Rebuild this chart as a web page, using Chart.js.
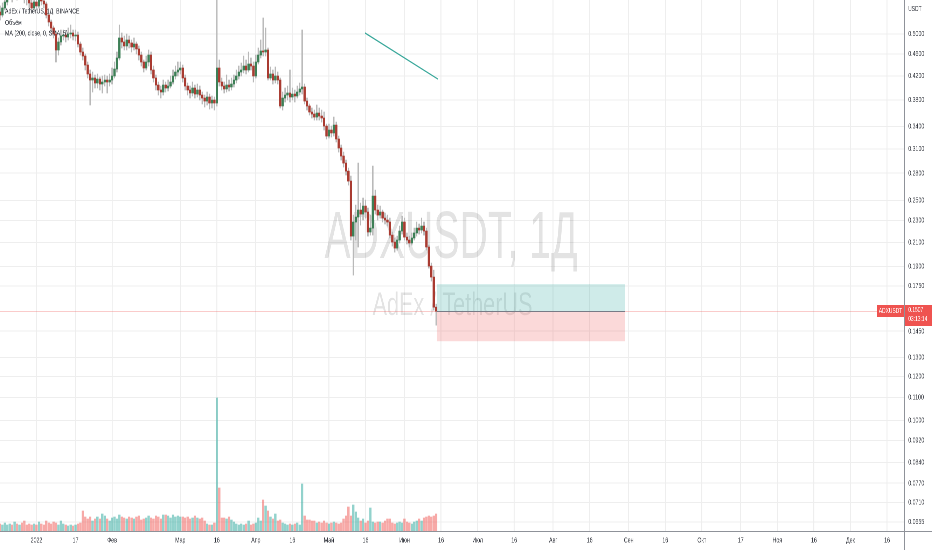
<!DOCTYPE html>
<html>
<head>
<meta charset="utf-8">
<script src="https://cdn.jsdelivr.net/npm/chart.js@4.4.1/dist/chart.umd.min.js"></script>
<style>
  html, body { margin: 0; padding: 0; background: #fff; overflow: hidden; }
  #frame { width: 932px; height: 550px; overflow: hidden; position: relative; }
  #wrap { width: 1331px; height: 550px; transform: scaleX(0.70023); transform-origin: 0 0; }
</style>
</head>
<body>
<div id="frame"><div id="wrap"><canvas id="chart"></canvas></div></div>
<script>
// ADX/USDT daily candles, day 0 = 1 Jan 2022
const FIRST_DAY = -15;
const FIRST_OPEN = 0.5480;

const closes = [
  0.5412, 0.5572, 0.5713, 0.5882, 0.6006, 0.5907, 0.6057, 0.5956, 0.6133, 0.5981, 0.5858, 0.5809, 0.5690, 0.5572, 0.5713,
  0.5619, 0.5809, 0.5737, 0.5666, 0.5412, 0.5256, 0.5127, 0.5000, 0.4678, 0.4837,
  0.4959, 0.4979, 0.4938, 0.5000, 0.5021, 0.4959, 0.4979, 0.4796, 0.4639, 0.4562,
  0.4394, 0.4233, 0.4128, 0.4163, 0.4077, 0.4145, 0.4060, 0.4094, 0.4128, 0.4094,
  0.4128, 0.4198, 0.4322, 0.4525, 0.4918, 0.4837, 0.4757, 0.4877, 0.4817, 0.4737,
  0.4796, 0.4698, 0.4581, 0.4450, 0.4340, 0.4450, 0.4581, 0.4304, 0.4163, 0.4043,
  0.3960, 0.3927, 0.4043, 0.3993, 0.4026, 0.4094, 0.4198, 0.4268, 0.4304, 0.4340,
  0.4163, 0.4026, 0.3960, 0.3911, 0.3993, 0.3894, 0.3960, 0.3878, 0.3830, 0.3782,
  0.3846, 0.3751, 0.3798, 0.3751, 0.4340, 0.4094, 0.4026, 0.3977, 0.4043, 0.4010,
  0.4060, 0.4128, 0.4198, 0.4268, 0.4304, 0.4376, 0.4304, 0.4413, 0.4376, 0.4198,
  0.4450, 0.4581, 0.4659, 0.4639, 0.4678, 0.4163, 0.4233, 0.4128, 0.4198, 0.4128,
  0.3705, 0.3830, 0.3878, 0.3911, 0.3846, 0.3894, 0.3862, 0.3927, 0.3977, 0.4010,
  0.3782, 0.3705, 0.3613, 0.3583, 0.3538, 0.3598, 0.3553, 0.3524, 0.3408, 0.3269,
  0.3352, 0.3311, 0.3422, 0.3229, 0.3110, 0.3008, 0.2921, 0.2825, 0.2710, 0.2155,
  0.2285, 0.2333, 0.2402, 0.2362, 0.2442, 0.2382, 0.2192, 0.2228, 0.2546, 0.2402,
  0.2352, 0.2382, 0.2323, 0.2304, 0.2285, 0.2164, 0.2102, 0.2050, 0.2120, 0.2201,
  0.2285, 0.2146, 0.2120, 0.2094, 0.2138, 0.2183, 0.2228, 0.2210, 0.2247, 0.2201,
  0.2059, 0.1902, 0.1817, 0.1603, 0.1576
];

const highs = [
  0.5619, 0.5690, 0.5907, 0.6108, 0.6210, 0.6159, 0.6262, 0.6159, 0.6368, 0.6210, 0.6082, 0.5956, 0.5858, 0.5761, 0.5834,
  0.5785, 0.5956, 0.5882, 0.5809, 0.5713, 0.5458, 0.5300, 0.5170, 0.5042, 0.4918,
  0.5084, 0.5084, 0.5063, 0.5127, 0.5191, 0.5084, 0.5084, 0.5042, 0.4837, 0.4717,
  0.4600, 0.4450, 0.4304, 0.4268, 0.4215, 0.4233, 0.4180, 0.4198, 0.4215, 0.4198,
  0.4233, 0.4340, 0.4450, 0.4639, 0.5191, 0.5021, 0.4959, 0.5000, 0.4959, 0.4877,
  0.4918, 0.4837, 0.4757, 0.4639, 0.4487, 0.4562, 0.4678, 0.4639, 0.4376, 0.4215,
  0.4094, 0.4026, 0.4128, 0.4094, 0.4128, 0.4198, 0.4304, 0.4376, 0.4450, 0.4450,
  0.4394, 0.4215, 0.4077, 0.4026, 0.4094, 0.4043, 0.4060, 0.4026, 0.3927, 0.3878,
  0.3927, 0.3894, 0.3862, 0.3846, 0.6806, 0.4487, 0.4163, 0.4094, 0.4215, 0.4128,
  0.4163, 0.4215, 0.4304, 0.4376, 0.4431, 0.4562, 0.4487, 0.4639, 0.4525, 0.4450,
  0.4581, 0.4717, 0.4877, 0.5345, 0.5127, 0.4717, 0.4358, 0.4304, 0.4358, 0.4268,
  0.4163, 0.3927, 0.3993, 0.4026, 0.4304, 0.3993, 0.3960, 0.4026, 0.4077, 0.5084,
  0.4060, 0.3830, 0.3736, 0.3674, 0.3643, 0.3720, 0.3674, 0.3643, 0.3613, 0.3436,
  0.3436, 0.3408, 0.3538, 0.3465, 0.3269, 0.3149, 0.3058, 0.2958, 0.2861, 0.2767,
  0.2352, 0.2452, 0.2921, 0.2473, 0.2525, 0.2504, 0.2422, 0.2352, 0.2885, 0.2610,
  0.2452, 0.2442, 0.2402, 0.2372, 0.2352, 0.2323, 0.2192, 0.2138, 0.2155, 0.2247,
  0.2342, 0.2323, 0.2183, 0.2155, 0.2183, 0.2228, 0.2285, 0.2266, 0.2323, 0.2285,
  0.2228, 0.2076, 0.1926, 0.1870, 0.1623
];

const lows = [
  0.5300, 0.5367, 0.5526, 0.5642, 0.5785, 0.5713, 0.5834, 0.5761, 0.5882, 0.5809, 0.5690, 0.5642, 0.5572, 0.5480, 0.5526,
  0.5526, 0.5572, 0.5642, 0.5572, 0.5345, 0.5170, 0.5042, 0.4918, 0.4450, 0.4581,
  0.4776, 0.4877, 0.4837, 0.4877, 0.4918, 0.4877, 0.4857, 0.4737, 0.4581, 0.4487,
  0.4304, 0.4163, 0.3720, 0.3927, 0.3993, 0.3993, 0.3960, 0.3911, 0.4026, 0.3911,
  0.4026, 0.4060, 0.4163, 0.4268, 0.4487, 0.4717, 0.4678, 0.4678, 0.4717, 0.4639,
  0.4678, 0.4600, 0.4487, 0.4376, 0.4268, 0.4304, 0.4376, 0.4233, 0.4094, 0.3960,
  0.3878, 0.3830, 0.3878, 0.3927, 0.3944, 0.3993, 0.4060, 0.4145, 0.4198, 0.4233,
  0.4094, 0.3960, 0.3878, 0.3830, 0.3862, 0.3830, 0.3846, 0.3798, 0.3736, 0.3689,
  0.3720, 0.3658, 0.3674, 0.3643, 0.3705, 0.4026, 0.3960, 0.3911, 0.3927, 0.3944,
  0.3960, 0.4010, 0.4077, 0.4145, 0.4198, 0.4251, 0.4233, 0.4268, 0.4304, 0.4094,
  0.4163, 0.4413, 0.4525, 0.4562, 0.4562, 0.4128, 0.4128, 0.4060, 0.4077, 0.4060,
  0.3674, 0.3643, 0.3767, 0.3798, 0.3767, 0.3798, 0.3767, 0.3830, 0.3878, 0.3894,
  0.3736, 0.3643, 0.3568, 0.3524, 0.3494, 0.3494, 0.3494, 0.3465, 0.3352, 0.3229,
  0.3242, 0.3256, 0.3269, 0.3189, 0.3058, 0.2958, 0.2873, 0.2779, 0.2665, 0.2120,
  0.1832, 0.2120, 0.2059, 0.2256, 0.2304, 0.2323, 0.2155, 0.2164, 0.2164, 0.2362,
  0.2304, 0.2323, 0.2285, 0.2266, 0.2247, 0.2138, 0.2067, 0.2016, 0.2033, 0.2094,
  0.2173, 0.2120, 0.2085, 0.2059, 0.2076, 0.2120, 0.2155, 0.2173, 0.2183, 0.2164,
  0.2033, 0.1886, 0.1787, 0.1583, 0.1487
];

// volume, millions ADX
const volumes = [
  0.7, 0.6, 0.8, 0.6, 0.7, 0.6, 0.9, 0.7, 0.6, 0.8, 1.0, 0.6, 0.7, 0.6, 0.7,
  0.6, 0.9, 0.7, 0.6, 1.0, 0.8, 0.7, 0.9, 0.8, 0.6,
  1.0, 0.7, 0.6, 0.5, 0.6, 0.5, 0.6, 0.7, 0.8, 2.0,
  1.4, 1.2, 1.4, 1.0, 1.2, 1.4, 1.2, 1.7, 1.5, 1.2,
  1.0, 1.3, 1.4, 1.2, 1.6, 1.4, 1.3, 1.2, 1.4, 1.3,
  1.2, 1.4, 1.5, 1.1, 1.2, 1.3, 1.5, 1.3, 1.2, 1.5,
  1.4, 1.2, 1.6, 1.6, 1.5, 1.3, 1.6, 1.4, 1.5, 1.4,
  1.4, 1.3, 1.4, 1.2, 1.3, 1.5, 1.3, 1.2, 1.3, 1.0,
  0.7, 0.6, 0.6, 0.8, 13.3, 4.3, 1.3, 1.3, 1.2, 1.4,
  1.1, 0.9, 0.7, 0.6, 0.7, 0.6, 0.7, 1.0, 0.6, 0.7,
  0.8, 1.3, 1.0, 3.1, 2.5, 2.0, 1.4, 1.2, 1.7, 1.0,
  1.1, 0.8, 0.7, 0.6, 0.7, 0.6, 0.7, 0.8, 0.6, 4.7,
  1.5, 1.1, 1.1, 1.0, 1.0, 0.8, 0.9, 0.8, 1.0, 0.8,
  0.7, 0.8, 0.9, 0.8, 0.7, 0.8, 1.2, 1.5, 2.4, 1.5,
  2.6, 1.9, 1.3, 1.0, 1.2, 0.8, 1.0, 2.3, 0.9, 0.8,
  0.9, 0.9, 0.8, 1.0, 1.2, 1.2, 0.8, 0.7, 0.8, 0.9,
  0.8, 1.2, 0.9, 0.8, 0.7, 0.9, 1.0, 1.2, 1.0, 1.3,
  1.4, 1.5, 1.4, 1.5, 1.7
];

const priceTicks = [0.5, 0.46, 0.42, 0.38, 0.34, 0.31, 0.28, 0.25, 0.23, 0.21, 0.19, 0.175,
  0.145, 0.13, 0.12, 0.11, 0.10, 0.092, 0.084, 0.077, 0.071, 0.0655];
const dayTicks = [0, 16, 31, 59, 74, 90, 105, 120, 135, 151, 166, 181, 196, 212, 227, 243, 258, 273, 289, 304, 319, 334, 349];
const dayLabels = ['2022', '17', 'Фев', 'Мар', '16', 'Апр', '16', 'Май', '16', 'Июн', '16', 'Июл', '16',
  'Авг', '16', 'Сен', '16', 'Окт', '17', 'Ноя', '16', 'Дек', '16'];

// drawing on the chart: trend line and long position
const trendDays = [134.8, 164.7];
const trendPrices = [0.5021, 0.4145];
const positionDays = [164.3, 241.5];
const positionTarget = 0.1764;
const positionStop = 0.1391;

const SX = 932 / 1331;
const FONT = "'Liberation Sans', Arial, sans-serif";
const TEXT = '#2f323a';
const UP = '#3d7f56';
const DOWN = '#a93b31';

function openAt(i) {
  return i === 0 ? FIRST_OPEN : closes[i - 1];
}

function fitText(ctx, text, cx, baseline, size, width, color) {
  ctx.save();
  ctx.font = size + 'px ' + FONT;
  const w = ctx.measureText(text).width;
  ctx.translate(cx, baseline);
  ctx.scale(width / w, 1);
  ctx.fillStyle = color;
  ctx.textAlign = 'center';
  ctx.textBaseline = 'alphabetic';
  ctx.fillText(text, 0, 0);
  ctx.restore();
}

const overlay = {
  id: 'overlay',
  beforeDatasetsDraw(chart) {
    const { ctx, chartArea: a, scales: { x, y } } = chart;
    ctx.save();
    fitText(ctx, 'ADXUSDT, 1Д', 451 / SX, 258, 67, 253 / SX, 'rgba(0,0,0,0.11)');
    fitText(ctx, 'AdEx / TetherUS', 452.5 / SX, 315, 32, 160 / SX, 'rgba(0,0,0,0.11)');

    const x0 = x.getPixelForValue(positionDays[0]);
    const x1 = x.getPixelForValue(positionDays[1]);
    const yEntry = y.getPixelForValue(closes[closes.length - 1]);
    const yTarget = y.getPixelForValue(positionTarget);
    const yStop = y.getPixelForValue(positionStop);
    ctx.fillStyle = 'rgba(38,166,154,0.22)';
    ctx.fillRect(x0, yTarget, x1 - x0, yEntry - yTarget);
    ctx.fillStyle = 'rgba(239,83,80,0.22)';
    ctx.fillRect(x0, yEntry, x1 - x0, yStop - yEntry);

    // last price line
    ctx.strokeStyle = 'rgba(239,83,80,0.3)';
    ctx.lineWidth = 1;
    ctx.beginPath();
    ctx.moveTo(a.left, Math.round(yEntry) + 0.5);
    ctx.lineTo(a.right, Math.round(yEntry) + 0.5);
    ctx.stroke();
    ctx.strokeStyle = '#787b86';
    ctx.beginPath();
    ctx.moveTo(x0, Math.round(yEntry) + 0.5);
    ctx.lineTo(x1, Math.round(yEntry) + 0.5);
    ctx.stroke();
    ctx.restore();
  },
  afterDraw(chart) {
    const { ctx, chartArea: a, scales: { y } } = chart;
    const W = chart.width, H = chart.height;
    ctx.save();
    ctx.strokeStyle = '#8f9299';
    ctx.lineWidth = 1.4;
    ctx.beginPath();
    ctx.moveTo(a.right + 0.7, 0);
    ctx.lineTo(a.right + 0.7, H);
    ctx.stroke();
    ctx.lineWidth = 1;
    ctx.beginPath();
    ctx.moveTo(0, a.bottom + 0.5);
    ctx.lineTo(W, a.bottom + 0.5);
    ctx.stroke();

    ctx.font = '7.5px ' + FONT;
    ctx.fillStyle = '#2f323a';
    ctx.textAlign = 'left';
    ctx.textBaseline = 'middle';
    ctx.fillText('AdEx / TetherUS, 1Д, BINANCE', 5 / SX, 11.5);
    ctx.fillText('Объём', 5 / SX, 23);
    ctx.fillText('MA (200, close, 0, SMA, 5)', 5 / SX, 33.5);

    ctx.font = '7px ' + FONT;
    ctx.fillStyle = TEXT;
    ctx.fillText('USDT', a.right + 6, 9);

    const yEntry = Math.round(y.getPixelForValue(closes[closes.length - 1]));
    ctx.fillStyle = '#ef5350';
    ctx.fillRect(a.right + 1.4, yEntry - 6, W - a.right, 21);
    ctx.fillRect(877 / SX, yEntry - 6, a.right - 877 / SX, 12);
    ctx.fillStyle = '#fff';
    ctx.fillText('0.1507', a.right + 6, yEntry - 1);
    ctx.fillText('03:13:14', a.right + 6, yEntry + 8);
    ctx.textAlign = 'center';
    ctx.fillText('ADXUSDT', (877 / SX + a.right) / 2, yEntry);
    ctx.restore();
  }
};

function buildChart() {
  const wicks = closes.map((c, i) => ({ x: FIRST_DAY + i, y: [lows[i], highs[i]] }));
  const bodies = closes.map((c, i) => ({ x: FIRST_DAY + i, y: [openAt(i), c] }));
  const vols = volumes.map((v, i) => ({ x: FIRST_DAY + i, y: v }));
  const isUp = i => closes[i] >= openAt(i);

  new Chart(document.getElementById('chart'), {
    data: {
      datasets: [
        {
          type: 'line', order: 0,
          data: trendDays.map((d, i) => ({ x: d, y: trendPrices[i] })),
          borderColor: '#3aa89b', borderWidth: 1.3, pointRadius: 0
        },
        {
          type: 'bar', order: 1, grouped: false, data: bodies,
          barThickness: 2.6, maxBarThickness: 2.6, borderWidth: 0,
          backgroundColor: c => isUp(c.dataIndex) ? UP : DOWN
        },
        {
          type: 'bar', order: 2, grouped: false, data: wicks,
          barThickness: 1.3, maxBarThickness: 1.3, borderWidth: 0,
          backgroundColor: '#b9b9b9'
        },
        {
          type: 'bar', order: 3, grouped: false, data: vols, yAxisID: 'vol',
          barThickness: 2.6, maxBarThickness: 2.6, borderWidth: 0,
          backgroundColor: c => isUp(c.dataIndex) ? 'rgba(38,166,154,0.5)' : 'rgba(239,83,80,0.5)'
        }
      ]
    },
    options: {
      responsive: true,
      maintainAspectRatio: false,
      animation: false,
      devicePixelRatio: 2,
      events: [],
      layout: { padding: 0, autoPadding: false },
      plugins: { legend: { display: false }, tooltip: { enabled: false } },
      scales: {
        x: {
          type: 'linear', min: -14.98, max: 355.97, offset: false,
          afterBuildTicks: s => { s.ticks = dayTicks.map(v => ({ value: v })); },
          afterFit: s => { s.height = 19; s.paddingLeft = 0; s.paddingRight = 0; },
          ticks: {
            autoSkip: false, maxRotation: 0, padding: 5, color: TEXT,
            font: { family: FONT, size: 7.5 },
            callback: v => dayLabels[dayTicks.indexOf(v)]
          },
          grid: { color: '#eeeeee', lineWidth: 1.4, drawTicks: false, offset: false },
          border: { display: false }
        },
        y: {
          type: 'logarithmic', position: 'right', min: 0.0631, max: 0.5761, offset: false,
          afterBuildTicks: s => { s.ticks = priceTicks.map(v => ({ value: v })); },
          afterFit: s => { s.width = 40; s.paddingTop = 0; s.paddingBottom = 0; },
          ticks: {
            autoSkip: false, padding: 6, color: TEXT,
            font: { family: FONT, size: 7.5 },
            callback: v => Number(v).toFixed(4)
          },
          grid: { color: '#eeeeee', lineWidth: 1, drawTicks: false },
          border: { display: false }
        },
        vol: { type: 'linear', display: false, min: 0, max: 53.1 }
      }
    },
    plugins: [overlay]
  });
}

document.addEventListener('DOMContentLoaded', buildChart);
</script>
</body>
</html>
